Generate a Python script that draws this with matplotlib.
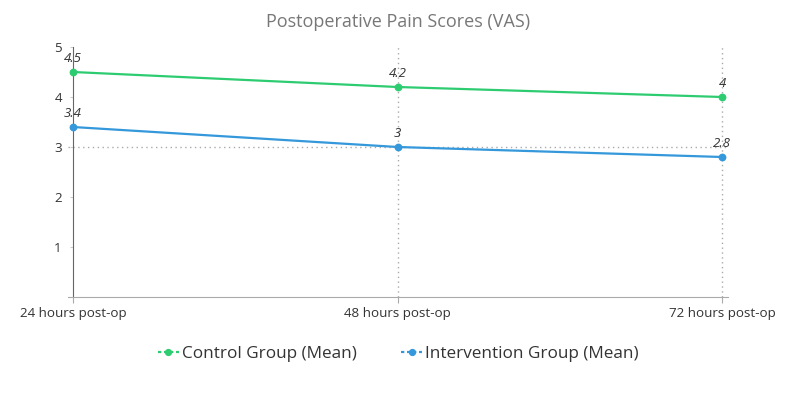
import matplotlib.pyplot as plt
from matplotlib.lines import Line2D

# data
timepoints = ["24 hours post-op", "48 hours post-op", "72 hours post-op"]
control_mean = [4.5, 4.2, 4.0]
intervention_mean = [3.4, 3.0, 2.8]
series_names = ["Control Group (Mean)", "Intervention Group (Mean)"]

green = "#2ecc71"
blue = "#3498db"
plt.rcParams['font.family'] = ['Open Sans', 'DejaVu Sans']

fig = plt.figure(figsize=(7.97, 3.99), dpi=100)
ax = fig.add_axes([68 / 797, 1 - 297 / 399, 660 / 797, 250 / 399])

x = list(range(len(timepoints)))

# grid: vertical dotted lines and the single dotted line at 3
for xi in x[1:]:
    ax.axvline(xi, color="#aaaaaa", linestyle=(0, (1, 2.5)), linewidth=1, zorder=1)
ax.axhline(3, color="#aaaaaa", linestyle=(0, (1, 2.5)), linewidth=1, zorder=1)

ax.plot(x, control_mean, color=green, linewidth=1.6, marker="o", markersize=4.6, zorder=3)
ax.plot(x, intervention_mean, color=blue, linewidth=1.6, marker="o", markersize=4.6, zorder=3)

for vals in (control_mean, intervention_mean):
    for xi, v in zip(x, vals):
        ax.annotate(f"{v:g}", (xi, v), xytext=(0, 5), textcoords="offset points",
                    ha="center", va="bottom", fontsize=9.5, style="italic", color="#333333")

ax.set_xlim(-0.015, 2.018)
ax.set_ylim(0, 5)
ax.set_xticks(x)
ax.set_xticklabels(timepoints, fontsize=9.6, color="#333333")
ax.set_yticks([1, 2, 3, 4, 5])
ax.tick_params(axis="y", length=2, color="#cccccc", labelsize=9.6, labelcolor="#333333", pad=6)
ax.tick_params(axis="x", length=4, color="#aaaaaa", pad=3)

for s in ("top", "right"):
    ax.spines[s].set_visible(False)
ax.spines["left"].set_color("#666666")
ax.spines["bottom"].set_color("#aaaaaa")
ax.spines["left"].set_position(("data", 0))

fig.text(0.5, 1 - 22 / 399, "Postoperative Pain Scores (VAS)", ha="center", va="center",
         fontsize=13, color="#777777")

handles = [
    Line2D([], [], color=green, linestyle=(0, (1.5, 1.2)), linewidth=1.6, marker="o", markersize=4.2),
    Line2D([], [], color=blue, linestyle=(0, (1.5, 1.2)), linewidth=1.6, marker="o", markersize=4.2),
]
fig.legend(handles, series_names, loc="center", bbox_to_anchor=(0.5, 1 - 354 / 399), ncol=2,
           frameon=False, fontsize=12.3, handlelength=1.2, handletextpad=0.2, columnspacing=2.6,
           labelcolor="#333333")

fig.savefig("out.png", dpi=100)
